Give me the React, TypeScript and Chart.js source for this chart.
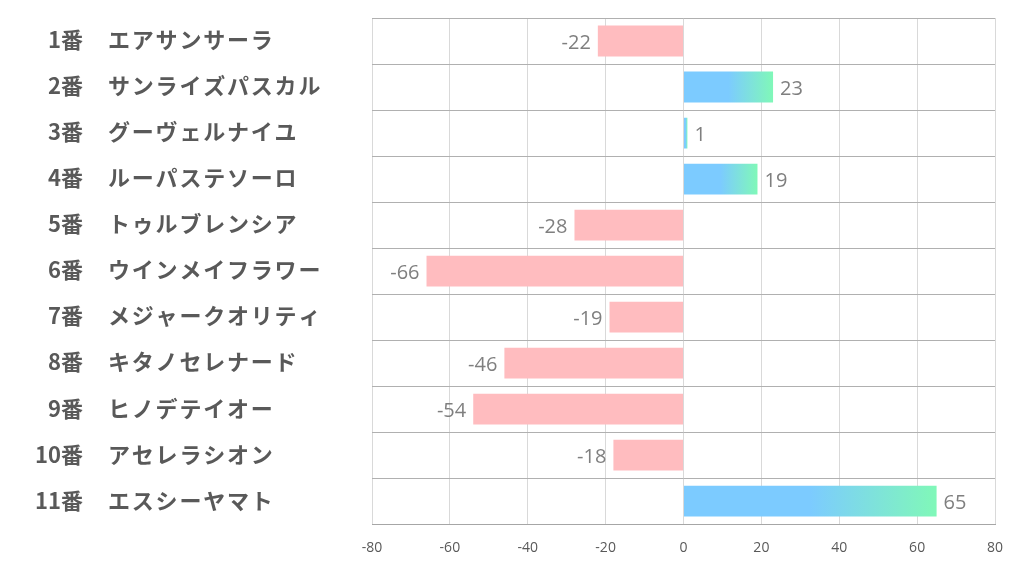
import React, { useEffect, useRef } from "react";
import { Chart, registerables } from "chart.js";

Chart.register(...registerables);

const horseNumbers = ["1番", "2番", "3番", "4番", "5番", "6番", "7番", "8番", "9番", "10番", "11番"];
const horseNames = [
  "エアサンサーラ",
  "サンライズパスカル",
  "グーヴェルナイユ",
  "ルーパステソーロ",
  "トゥルブレンシア",
  "ウインメイフラワー",
  "メジャークオリティ",
  "キタノセレナード",
  "ヒノデテイオー",
  "アセレラシオン",
  "エスシーヤマト",
];
const scores = [-22, 23, 1, 19, -28, -66, -19, -46, -54, -18, 65];
const xMin = -80;
const xMax = 80;
const xStep = 20;

const BLUE = "#7ccbff";
const GREEN = "#80f8b8";
const PINK = "#ffbcbf";

const sidePlugin = {
  id: "sideLabels",
  afterDatasetsDraw(chart: any) {
    const { ctx } = chart;
    const yScale = chart.scales.y;
    const xScale = chart.scales.x;
    ctx.save();
    ctx.textBaseline = "middle";
    ctx.font = "bold 22px 'Noto Sans CJK JP'";
    ctx.fillStyle = "#595959";
    horseNumbers.forEach((n, i) => {
      const y = yScale.getPixelForValue(i) - 1;
      ctx.letterSpacing = "0px";
      ctx.textAlign = "right";
      ctx.fillText(n, 83, y);
      ctx.textAlign = "left";
      ctx.letterSpacing = "1.8px";
      ctx.fillText(horseNames[i], 108, y);
    });
    ctx.letterSpacing = "0px";
    ctx.font = "20px 'Open Sans'";
    ctx.fillStyle = "#7f7f7f";
    scores.forEach((v, i) => {
      const y = yScale.getPixelForValue(i) + 2;
      const xe = xScale.getPixelForValue(v);
      if (v >= 0) {
        ctx.textAlign = "left";
        ctx.fillText(String(v), xe + 7, y);
      } else {
        ctx.textAlign = "right";
        ctx.fillText(String(v), xe - 7, y);
      }
    });
    ctx.restore();
  },
};

export default function App() {
  const ref = useRef<HTMLCanvasElement | null>(null);
  useEffect(() => {
    document.body.style.margin = "0";
    const canvas = ref.current;
    if (!canvas) return;
    const chart = new Chart(canvas, {
      type: "bar",
      data: {
        labels: horseNames,
        datasets: [
          {
            data: scores,
            backgroundColor: (c: any) => {
              const v = scores[c.dataIndex];
              if (v < 0) return PINK;
              const ch = c.chart;
              const xs = ch.scales && ch.scales.x;
              if (!xs || !ch.chartArea) return BLUE;
              const x0 = xs.getPixelForValue(0);
              const x1 = xs.getPixelForValue(v);
              if (x1 - x0 < 2) return BLUE;
              const g = ch.ctx.createLinearGradient(x0, 0, x1, 0);
              g.addColorStop(0, BLUE);
              g.addColorStop(0.5, BLUE);
              g.addColorStop(1, GREEN);
              return g;
            },
            borderWidth: 0,
            barPercentage: 0.67,
            categoryPercentage: 1,
          },
        ],
      },
      options: {
        indexAxis: "y",
        animation: false,
        responsive: false,
        maintainAspectRatio: false,
        layout: { padding: { left: 372, top: 18, right: 27, bottom: 3 } },
        plugins: { legend: { display: false }, tooltip: { enabled: false } },
        scales: {
          x: {
            min: xMin,
            max: xMax,
            ticks: {
              stepSize: xStep,
              color: "#595959",
              font: { family: "'Open Sans'", size: 14 },
              padding: 15,
            },
            grid: { color: "#d9d9d9", drawTicks: false, lineWidth: 1 },
            border: { display: true, color: "#a6a6a6", width: 1 },
          },
          y: {
            type: "category",
            ticks: { display: false },
            grid: { color: "#b0b0b0", offset: true, drawTicks: false, lineWidth: 1 },
            border: { display: false },
          },
        },
      },
      plugins: [sidePlugin],
    } as any);
    return () => chart.destroy();
  }, []);
  return (
    <div style={{ width: 1022, height: 574 }}>
      <canvas ref={ref} width={1022} height={574} style={{ display: "block" }} />
    </div>
  );
}
